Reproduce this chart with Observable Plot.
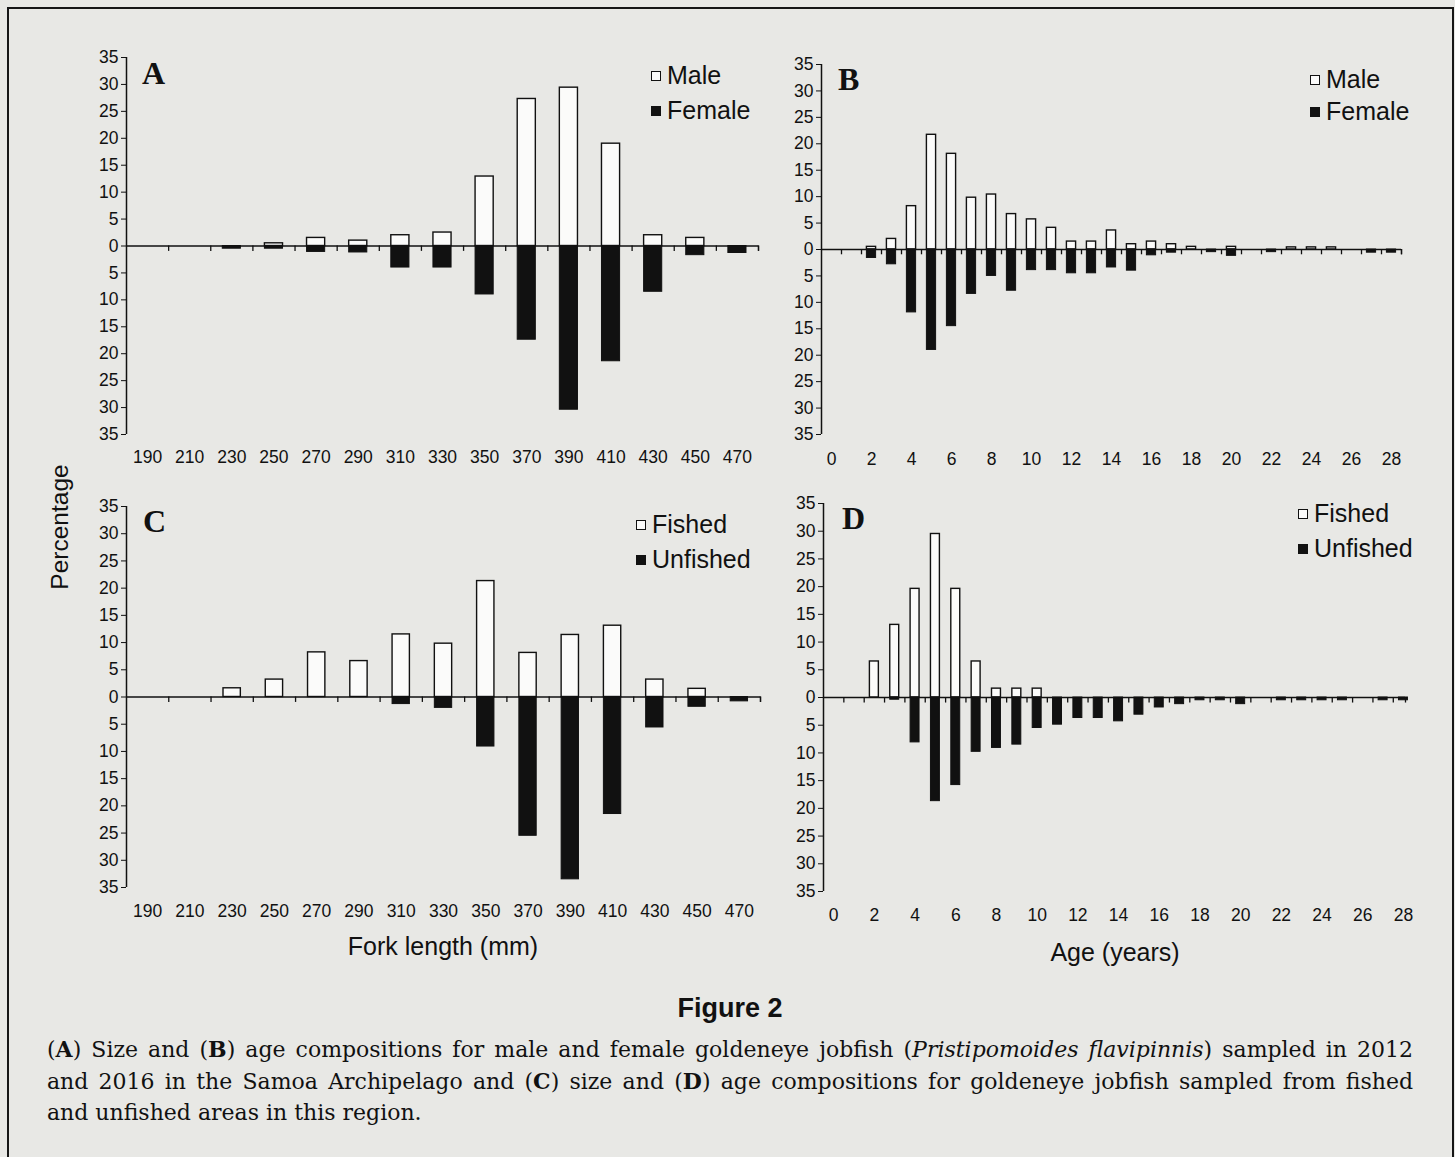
<!DOCTYPE html>
<html>
<head>
<meta charset="utf-8">
<script src="https://cdn.jsdelivr.net/npm/d3@7"></script>
<script src="https://cdn.jsdelivr.net/npm/@observablehq/plot@0.6"></script>
<style>
  html, body { margin: 0; padding: 0; }
  body { width: 1455px; height: 1157px; background: #e8e8e5; position: relative; overflow: hidden; font-family: "Liberation Sans", Arial, sans-serif; color: #111; }
  #frame { position: absolute; left: 7px; top: 7px; width: 1443px; height: 1170px; border: 2px solid #161616; }
  .panel { position: absolute; }
  .letter { position: absolute; font-family: "Liberation Serif", "Times New Roman", serif; font-weight: bold; font-size: 32px; line-height: 1; }
  .leg { position: absolute; font-size: 25px; line-height: 1; white-space: nowrap; }
  .sw { display: inline-block; width: 8px; height: 8px; border: 1.5px solid #111; margin-right: 6px; vertical-align: 3px; }
  .axt { position: absolute; font-size: 25px; line-height: 1; white-space: nowrap; transform: translate(-50%, -50%); }
  #ylab { position: absolute; left: 60px; top: 527px; font-size: 24.5px; transform: translate(-50%, -50%) rotate(-90deg); white-space: nowrap; }
  #figt { position: absolute; left: 730px; top: 1008px; transform: translate(-50%, -50%); font-weight: bold; font-size: 27px; white-space: nowrap; }
  .cap { position: absolute; left: 47px; width: 1366px; font-family: "DejaVu Serif", serif; font-size: 22px; line-height: 1; white-space: nowrap; text-align: justify; text-align-last: justify; }
  .cap.last { text-align-last: left; }
</style>
</head>
<body>
<div id="frame"></div>
<div id="root"></div>
<div id="ylab">Percentage</div>
<div id="figt">Figure 2</div>
<div class="cap" style="top:1038px">(<b>A</b>) Size and (<b>B</b>) age compositions for male and female goldeneye jobfish (<i>Pristipomoides flavipinnis</i>) sampled in 2012</div>
<div class="cap" style="top:1070px">and 2016 in the Samoa Archipelago and (<b>C</b>) size and (<b>D</b>) age compositions for goldeneye jobfish sampled from fished</div>
<div class="cap last" style="top:1102px">and unfished areas in this region.</div>
<script>
// ---------- data ----------
const forkLengths = [190, 210, 230, 250, 270, 290, 310, 330, 350, 370, 390, 410, 430, 450, 470];
const ages = d3.range(0, 29);

// Panel A: size composition by sex (%)
const maleSize   = [0, 0, 0, 0.5, 1.5, 1.0, 2.0, 2.5, 12.9, 27.3, 29.4, 19.0, 2.0, 1.5, 0];
const femaleSize = [0, 0, 0.5, 0.5, 1.1, 1.2, 4.0, 4.0, 9.0, 17.4, 30.4, 21.4, 8.5, 1.7, 1.3];

// Panel B: age composition by sex (%)
const maleAge   = [0, 0, 0.5, 2.0, 8.2, 21.7, 18.1, 9.8, 10.4, 6.7, 5.7, 4.1, 1.5, 1.5, 3.6, 1.0, 1.5, 1.0, 0.5, 0, 0.5, 0, 0, 0.4, 0.4, 0.4, 0, 0, 0];
const femaleAge = [0, 0, 1.6, 2.8, 11.9, 19.0, 14.5, 8.4, 5.0, 7.8, 3.9, 3.9, 4.5, 4.5, 3.4, 4.0, 1.1, 0.6, 0, 0.5, 1.2, 0, 0.5, 0, 0, 0, 0, 0.6, 0.6];

// Panel C: size composition fished vs unfished (%)
const fishedSize   = [0, 0, 1.6, 3.2, 8.2, 6.6, 11.5, 9.8, 21.3, 8.1, 11.4, 13.1, 3.2, 1.5, 0];
const unfishedSize = [0, 0, 0, 0, 0, 0, 1.3, 2.0, 9.1, 25.5, 33.5, 21.5, 5.6, 1.8, 0.8];

// Panel D: age composition fished vs unfished (%)
const fishedAge   = [0, 0, 6.5, 13.1, 19.6, 29.5, 19.6, 6.5, 1.6, 1.6, 1.6, 0, 0, 0, 0, 0, 0, 0, 0, 0, 0, 0, 0, 0, 0, 0, 0, 0, 0];
const unfishedAge = [0, 0, 0, 0.4, 8.1, 18.7, 15.8, 9.8, 9.1, 8.5, 5.5, 4.9, 3.7, 3.7, 4.3, 3.1, 1.8, 1.2, 0.5, 0.5, 1.2, 0, 0.5, 0.5, 0.5, 0.5, 0, 0.5, 0.5];

const ageTickLabels = d3.range(0, 29, 2);

// ---------- drawing ----------
const root = document.getElementById("root");

function panel(cfg) {
  const {cats, pos, neg, xDomain, half, binStep, binStart, tickVals, left, top, width, height, m, labelPad} = cfg;
  const rows = cats.map((c, i) => ({c, p: pos[i], n: neg[i]}));
  const bounds = d3.range(binStart, xDomain[1] + 1e-9, binStep).slice(1);
  bounds.push(xDomain[1]);
  const chart = Plot.plot({
    width, height,
    marginLeft: m[0], marginTop: m[1], marginRight: m[2], marginBottom: m[3],
    style: {background: "transparent", fontFamily: "'Liberation Sans', Arial, sans-serif", fontSize: "17.5px", color: "#111", overflow: "visible"},
    x: {domain: xDomain},
    y: {domain: [-35, 35]},
    marks: [
      Plot.rectY(rows.filter(d => d.p > 0), {x1: d => d.c - half, x2: d => d.c + half, y1: 0, y2: d => d.p, fill: "#fbfbfa", stroke: "#111", strokeWidth: 1.4}),
      Plot.rectY(rows.filter(d => d.n > 0), {x1: d => d.c - half, x2: d => d.c + half, y1: 0, y2: d => -d.n, fill: "#111", stroke: "#111", strokeWidth: 1}),
      Plot.ruleY([0], {stroke: "#111", strokeWidth: 1.5}),
      Plot.ruleX(bounds, {y1: 0, y2: -1, stroke: "#111", strokeWidth: 1.3}),
      Plot.ruleX([xDomain[0]], {stroke: "#111", strokeWidth: 1.5}),
      Plot.axisY({ticks: d3.range(-35, 36, 5), tickFormat: d => String(Math.abs(d)), tickSize: 5, tickPadding: 3, label: null}),
      Plot.axisX({ticks: tickVals, tickFormat: d => String(d), tickSize: 0, tickPadding: labelPad, label: null})
    ]
  });
  const wrap = document.createElement("div");
  wrap.className = "panel";
  wrap.style.left = left + "px";
  wrap.style.top = top + "px";
  wrap.appendChild(chart);
  root.appendChild(wrap);
}

panel({cats: forkLengths, pos: maleSize, neg: femaleSize, xDomain: [180, 480], half: 4.3, binStep: 20, binStart: 180,
  tickVals: forkLengths, left: 50, top: 40, width: 720, height: 440, m: [76, 17, 12, 46], labelPad: 16});
panel({cats: ages, pos: maleAge, neg: femaleAge, xDomain: [-0.5, 28.5], half: 0.23, binStep: 1, binStart: -0.5,
  tickVals: ageTickLabels, left: 740, top: 40, width: 700, height: 440, m: [81, 24, 39, 46], labelPad: 18});
panel({cats: forkLengths, pos: fishedSize, neg: unfishedSize, xDomain: [180, 480], half: 4.1, binStep: 20, binStart: 180,
  tickVals: forkLengths, left: 50, top: 490, width: 720, height: 440, m: [76, 16, 10, 43], labelPad: 17});
panel({cats: ages, pos: fishedAge, neg: unfishedAge, xDomain: [-0.5, 28.1], half: 0.22, binStep: 1, binStart: -0.5,
  tickVals: ageTickLabels, left: 740, top: 490, width: 700, height: 440, m: [83, 13, 35, 39], labelPad: 17});

// panel letters, legends, axis titles
function addDiv(cls, html, x, y) {
  const d = document.createElement("div");
  d.className = cls; d.innerHTML = html;
  d.style.left = x + "px"; d.style.top = y + "px";
  document.body.appendChild(d);
  return d;
}
const seriesNames = {A: ["Male", "Female"], B: ["Male", "Female"], C: ["Fished", "Unfished"], D: ["Fished", "Unfished"]};
addDiv("letter", "A", 142, 57);
addDiv("letter", "B", 838, 63);
addDiv("letter", "C", 143, 505);
addDiv("letter", "D", 842, 502);
function legend(names, x, y1, y2) {
  addDiv("leg", `<span class="sw" style="background:#fbfbfa"></span>${names[0]}`, x, y1 - 13);
  addDiv("leg", `<span class="sw" style="background:#111"></span>${names[1]}`, x, y2 - 13);
}
legend(seriesNames.A, 651, 76, 111);
legend(seriesNames.B, 1310, 80, 112);
legend(seriesNames.C, 636, 525, 560);
legend(seriesNames.D, 1298, 514, 549);
addDiv("axt", "Fork length (mm)", 443, 946);
addDiv("axt", "Age (years)", 1115, 952);
</script>
</body>
</html>
